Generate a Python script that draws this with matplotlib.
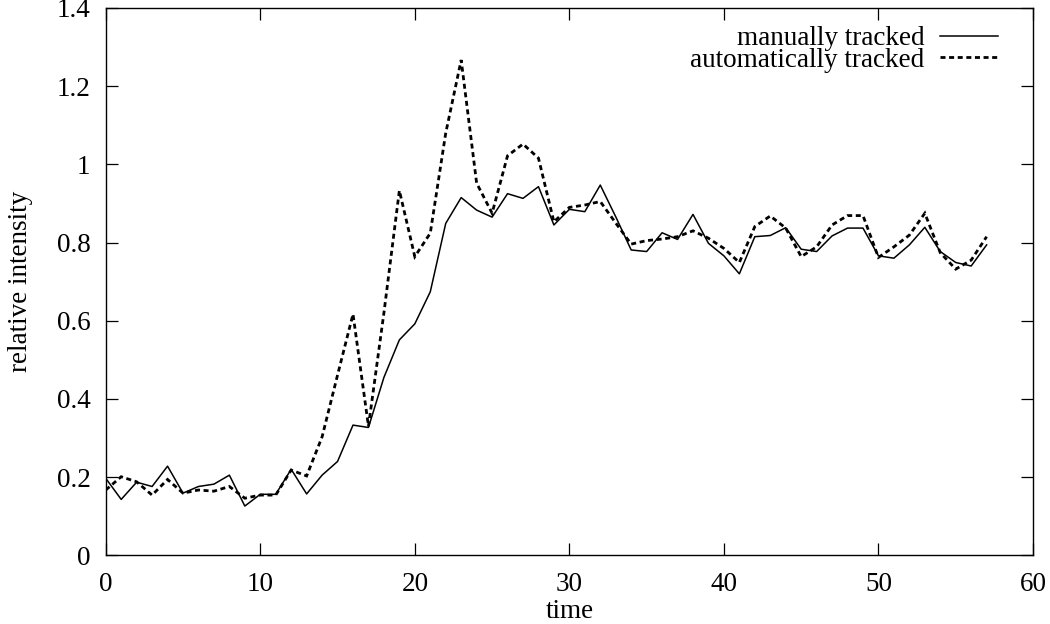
import matplotlib
matplotlib.use("Agg")
import matplotlib.pyplot as plt
from matplotlib.ticker import FuncFormatter

# Data
time = list(range(58))

manual = [0.197, 0.143, 0.187, 0.176, 0.228, 0.159, 0.176, 0.182, 0.205, 0.126,
          0.156, 0.156, 0.220, 0.157, 0.205, 0.240, 0.333, 0.327, 0.455, 0.551,
          0.592, 0.674, 0.849, 0.915, 0.883, 0.865, 0.925, 0.913, 0.943, 0.845,
          0.885, 0.879, 0.947, 0.866, 0.781, 0.777, 0.825, 0.808, 0.872, 0.798,
          0.766, 0.720, 0.815, 0.818, 0.838, 0.783, 0.777, 0.817, 0.837, 0.837,
          0.766, 0.760, 0.794, 0.839, 0.777, 0.749, 0.740, 0.794]

automatic = [0.167, 0.201, 0.188, 0.154, 0.194, 0.159, 0.167, 0.164, 0.176, 0.146,
             0.154, 0.154, 0.218, 0.203, 0.303, 0.461, 0.617, 0.330, 0.620, 0.933,
             0.764, 0.824, 1.080, 1.267, 0.952, 0.875, 1.022, 1.052, 1.016, 0.853,
             0.890, 0.896, 0.905, 0.850, 0.796, 0.805, 0.809, 0.815, 0.830, 0.811,
             0.785, 0.749, 0.841, 0.868, 0.837, 0.764, 0.789, 0.845, 0.869, 0.869,
             0.762, 0.789, 0.819, 0.875, 0.774, 0.732, 0.755, 0.815]

x_ticks = [0, 10, 20, 30, 40, 50, 60]
y_ticks = [0, 0.2, 0.4, 0.6, 0.8, 1.0, 1.2, 1.4]

FS = 19.5
plt.rcParams['font.family'] = ['Liberation Serif', 'DejaVu Serif']
plt.rcParams['font.size'] = FS
plt.rcParams['lines.scale_dashes'] = False

fig = plt.figure(figsize=(10.5, 6.24), dpi=100)
ax = fig.add_axes([0.1007, 0.1101, 0.8831, 0.8771])

ax.plot(time, manual, color='black', lw=1.1, label='manually tracked')
ax.plot(time, automatic, color='black', lw=2.0, dashes=(3.6, 2.6),
        dash_joinstyle='miter', label='automatically tracked')

ax.set_xlim(0, 60)
ax.set_ylim(0, 1.4)
ax.set_xticks(x_ticks)
ax.set_yticks(y_ticks)
ax.yaxis.set_major_formatter(FuncFormatter(lambda v, p: f"{v:g}"))

ax.tick_params(direction='in', length=8.6, width=0.9, top=True, right=True,
               labelsize=FS)
ax.tick_params(axis='x', pad=12)
ax.tick_params(axis='y', pad=11)
for s in ax.spines.values():
    s.set_linewidth(1.0)

ax.set_xlabel('time', fontsize=FS)
ax.set_ylabel('relative intensity', fontsize=FS)
ax.xaxis.set_label_coords(0.5, -0.079)
ax.yaxis.set_label_coords(-0.0784, 0.5)

ax.legend(loc='upper right', bbox_to_anchor=(0.962, 0.967), frameon=False,
          markerfirst=False, handlelength=2.15, handletextpad=0.55,
          labelspacing=-0.12, fontsize=FS, borderaxespad=0, borderpad=0)

fig.savefig('out.png', dpi=100)
